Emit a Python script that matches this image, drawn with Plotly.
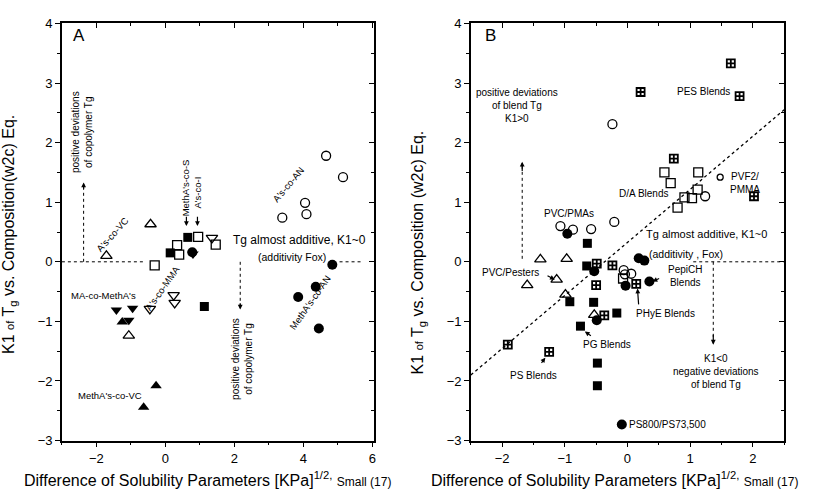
import plotly.graph_objects as go

# ---------------- Panel A data ----------------
a_open_sq_x = [-0.31, 0.34, 0.40, 0.95, 1.46]
a_open_sq_y = [-0.06, 0.28, 0.12, 0.42, 0.29]
a_fill_sq_x = [0.14, 0.65, 1.13]
a_fill_sq_y = [0.15, 0.41, -0.75]
a_open_tu_x = [-1.71, -0.43, -1.06]
a_open_tu_y = [0.10, 0.63, -1.24]
a_fill_tu_x = [-1.25, -0.27, -0.63]
a_fill_tu_y = [-1.01, -2.08, -2.44]
a_open_td_x = [1.35, 0.24, 0.27, -0.45]
a_open_td_y = [0.40, -0.56, -0.69, -0.79]
a_fill_td_x = [-1.42, -0.95, -1.06, 0.80]
a_fill_td_y = [-0.81, -0.78, -0.98, 0.13]
a_open_ci_x = [3.39, 4.09, 4.05, 4.66, 5.15]
a_open_ci_y = [0.74, 0.80, 0.99, 1.78, 1.42]
a_fill_ci_x = [4.84, 4.36, 3.85, 4.45, 0.78]
a_fill_ci_y = [-0.05, -0.42, -0.59, -1.12, 0.16]

# ---------------- Panel B data ----------------
b_open_ci_x = [-0.24, -1.07, -0.87, -0.58, -0.21, 1.24, -0.06, -0.04, 0.06]
b_open_ci_y = [2.31, 0.60, 0.54, 0.55, 0.67, 1.10, -0.14, -0.21, -0.20]
b_small_ci_x = [1.48]
b_small_ci_y = [1.42]
b_fill_ci_x = [-0.96, -0.53, -0.03, 0.18, 0.27, 0.35, -0.49, -0.09]
b_fill_ci_y = [0.47, -0.16, -0.40, 0.06, 0.02, -0.33, -0.98, -2.73]
b_open_sq_x = [0.59, 1.13, 0.69, 1.12, 0.91, 1.03, 0.80, -0.07]
b_open_sq_y = [1.50, 1.50, 1.32, 1.21, 1.08, 1.07, 0.91, -0.28]
b_fill_sq_x = [-0.64, -0.65, -0.92, -0.54, -0.17, -0.75, -0.48, -0.48]
b_fill_sq_y = [0.31, -0.07, -0.67, -0.68, -0.86, -1.08, -1.70, -2.08]
b_cross_sq_x = [1.65, 1.79, 0.21, 0.74, 2.02, -0.49, -0.50, -0.24, 0.14, -0.37, -1.25, -1.91]
b_cross_sq_y = [3.33, 2.78, 2.85, 1.73, 1.10, -0.03, -0.39, -0.06, -0.37, -0.90, -1.51, -1.39]
b_open_tu_x = [-1.39, -0.97, -1.60, -1.13, -0.99, -0.53]
b_open_tu_y = [0.04, 0.05, -0.39, -0.30, -0.55, -0.89]
b_diag_x = [-2.5, 2.5]
b_diag_y = [-1.9, 2.55]

FONT = "Liberation Sans, Arial, sans-serif"
fig = go.Figure()


def pts(x, y, sym, size, xa, ya, lw=1.3):
    fig.add_trace(go.Scatter(
        x=x, y=y, mode="markers", xaxis=xa, yaxis=ya, showlegend=False,
        marker=dict(symbol=sym, size=size, color="black",
                    line=dict(color="black", width=lw)),
        cliponaxis=False))


# panel A
pts(a_open_sq_x, a_open_sq_y, "square-open", 9, "x", "y")
pts(a_fill_sq_x, a_fill_sq_y, "square", 9, "x", "y", 0)
pts(a_open_tu_x, a_open_tu_y, "triangle-up-open", 10, "x", "y")
pts(a_fill_tu_x, a_fill_tu_y, "triangle-up", 10, "x", "y", 0)
pts(a_open_td_x, a_open_td_y, "triangle-down-open", 10, "x", "y")
pts(a_fill_td_x, a_fill_td_y, "triangle-down", 10, "x", "y", 0)
pts(a_open_ci_x, a_open_ci_y, "circle-open", 9, "x", "y")
pts(a_fill_ci_x, a_fill_ci_y, "circle", 10, "x", "y", 0)

# panel B
fig.add_trace(go.Scatter(x=b_diag_x, y=b_diag_y, mode="lines", xaxis="x2", yaxis="y2",
                         showlegend=False, line=dict(color="black", width=1.3, dash="dot")))
pts(b_open_ci_x, b_open_ci_y, "circle-open", 9, "x2", "y2")
pts(b_small_ci_x, b_small_ci_y, "circle-open", 6, "x2", "y2")
pts(b_fill_ci_x, b_fill_ci_y, "circle", 10, "x2", "y2", 0)
pts(b_open_sq_x, b_open_sq_y, "square-open", 9, "x2", "y2")
pts(b_fill_sq_x, b_fill_sq_y, "square", 9, "x2", "y2", 0)
pts(b_cross_sq_x, b_cross_sq_y, "square-cross-open", 8, "x2", "y2", 1.8)
pts(b_open_tu_x, b_open_tu_y, "triangle-up-open", 10, "x2", "y2")

# empty traces to draw mirrored (inside-tick) top/right axes
for xa, ya in (("x3", "y3"), ("x4", "y4")):
    fig.add_trace(go.Scatter(x=[], y=[], xaxis=xa, yaxis=ya, showlegend=False))

XA = [0.0752, 0.4545]
XB = [0.5721, 0.9527]
YD = [0.1042, 0.966]
RA = [-3, 6.05]
RB = [-2.5, 2.5]
RY = [-3, 4]

tickfont = dict(family=FONT, size=13, color="black")
base = dict(showline=True, linecolor="black", linewidth=1.5, showgrid=False,
            zeroline=False, ticklen=5, tickwidth=1.2, tickcolor="black", tickfont=tickfont)


def ax(rng, dom, tick0, dtick, mdtick, ticks, anchor, **kw):
    d = dict(base)
    d.update(range=rng, domain=dom, tick0=tick0, dtick=dtick, ticks=ticks, anchor=anchor,
             minor=dict(ticks=ticks, ticklen=3, tickcolor="black", dtick=mdtick, tick0=tick0))
    d.update(kw)
    return d


fig.update_layout(
    width=825, height=499, margin=dict(l=0, r=0, t=0, b=0),
    paper_bgcolor="white", plot_bgcolor="white",
    font=dict(family=FONT, color="black"),
    xaxis=ax(RA, XA, -2, 2, 1, "outside", "y"),
    yaxis=ax(RY, YD, 0, 1, 0.5, "outside", "x"),
    xaxis2=ax(RB, XB, 0, 1, 0.5, "outside", "y2"),
    yaxis2=ax(RY, YD, 0, 1, 0.5, "outside", "x2"),
    xaxis3=ax(RA, XA, -2, 2, 1, "inside", "y", overlaying="x", side="top", showticklabels=False),
    yaxis3=ax(RY, YD, 0, 1, 0.5, "inside", "x", overlaying="y", side="right", showticklabels=False),
    xaxis4=ax(RB, XB, 0, 1, 0.5, "inside", "y2", overlaying="x2", side="top", showticklabels=False),
    yaxis4=ax(RY, YD, 0, 1, 0.5, "inside", "x2", overlaying="y2", side="right", showticklabels=False),
)

shapes = []


def dline(xr, yr, x0, y0, x1, y1):
    shapes.append(dict(type="line", xref=xr, yref=yr, x0=x0, y0=y0, x1=x1, y1=y1,
                       line=dict(color="black", width=1, dash="dot")))


# panel A guide lines
dline("x", "y", -3, 0, -0.65, 0)
dline("x", "y", 5.05, 0, 5.7, 0)
dline("x", "y", -2.37, 0, -2.37, 1.31)
dline("x", "y", 2.17, 0, 2.17, -0.77)
# panel B guide lines
dline("x2", "y2", 1.05, 0, 2.5, 0)
dline("x2", "y2", -1.68, 0.05, -1.68, 1.65)
dline("x2", "y2", 1.37, 0, 1.37, -1.36)
fig.update_layout(shapes=shapes)

ann = []


def txt(xr, yr, x, y, t, size=10, angle=0, xanchor="center"):
    ann.append(dict(xref=xr, yref=yr, x=x, y=y, text=t, showarrow=False, textangle=angle,
                    xanchor=xanchor, yanchor="middle",
                    font=dict(family=FONT, size=size, color="black")))


def arrow(xr, yr, x, y, x0, y0, head=2, size=0.8):
    ann.append(dict(xref=xr, yref=yr, axref=xr, ayref=yr, x=x, y=y, ax=x0, ay=y0, text="",
                    showarrow=True, arrowhead=head, arrowsize=size, arrowwidth=1.2,
                    arrowcolor="black"))


# panel A labels
txt("x", "y", -2.75, 3.8, "A", 17, xanchor="left")
txt("x", "y", -2.4, 2.17, "positive deviations<br>of copolymer Tg", 10, -90)
arrow("x", "y", -2.37, 1.33, -2.37, 1.2)
txt("x", "y", 2.22, -1.63, "positive deviations<br>of copolymer Tg", 10, -90)
arrow("x", "y", 2.17, -0.8, 2.17, -0.67)
txt("x", "y", -1.54, 0.46, "A's-co-VC", 9.5, -48)
txt("x", "y", 0.61, 1.24, "MethA's-co-S", 9.5, -90)
arrow("x", "y", 0.61, 0.6, 0.61, 0.78)
txt("x", "y", 0.93, 1.17, "A's-co-I", 9.5, -90)
arrow("x", "y", 0.93, 0.6, 0.93, 0.78)
txt("x", "y", -0.1, -0.44, "A's-co-MMA", 9.5, -55)
txt("x", "y", -1.78, -0.56, "MA-co-MethA's", 9.5)
txt("x", "y", -1.61, -2.24, "MethA's-co-VC", 9.5)
txt("x", "y", 3.56, 1.30, "A's-co-AN", 9.5, -50)
txt("x", "y", 4.19, -0.68, "MethA's-co-AN", 9.5, -55)
txt("x", "y", 3.90, 0.36, "Tg almost additive, K1~0", 12)
txt("x", "y", 3.66, 0.08, "(additivity Fox)", 10.5)

# panel B labels
txt("x2", "y2", -2.3, 3.8, "B", 17, xanchor="left")
txt("x2", "y2", -1.76, 2.63, "positive deviations<br>of blend Tg<br>K1>0", 10)
arrow("x2", "y2", -1.68, 1.68, -1.68, 1.5)
txt("x2", "y2", 1.42, -1.84, "K1<0<br>negative deviations<br>of blend Tg", 10)
arrow("x2", "y2", 1.37, -1.39, 1.37, -1.2)
txt("x2", "y2", 1.21, 2.85, "PES Blends", 10)
txt("x2", "y2", 0.25, 1.15, "D/A Blends", 10)
txt("x2", "y2", 1.61, 1.32, "PVF2/<br>PMMA", 10, xanchor="left")
txt("x2", "y2", -0.94, 0.81, "PVC/PMAs", 10)
txt("x2", "y2", 1.26, 0.47, "Tg almost additive, K1~0", 11)
txt("x2", "y2", 0.94, 0.13, "(additivity , Fox)", 10.5)
txt("x2", "y2", -1.87, -0.18, "PVC/Pesters", 10)
arrow("x2", "y2", -1.16, -0.30, -1.30, -0.22)
txt("x2", "y2", 0.62, -0.23, "PepiCH<br>Blends", 10, xanchor="left")
arrow("x2", "y2", 0.40, -0.33, 0.53, -0.27)
txt("x2", "y2", 0.60, -0.86, "PHyE Blends", 10)
arrow("x2", "y2", 0.16, -0.45, 0.18, -0.74)
txt("x2", "y2", -0.33, -1.39, "PG Blends", 10)
arrow("x2", "y2", -0.68, -1.17, -0.56, -1.26)
txt("x2", "y2", -1.50, -1.91, "PS Blends", 10)
arrow("x2", "y2", -1.31, -1.61, -1.39, -1.72)
txt("x2", "y2", 0.0, -2.73, "PS800/PS73,500", 10, xanchor="left")

# axis titles
ytitle = "K1 <span style='font-size:11px'>of</span> T<sub>g</sub> vs. Composition{}(w2c) Eq."
for cx, cy, gap in ((10, 234, ""), (419, 253, " ")):
    ann.append(dict(xref="paper", yref="paper", x=cx / 825, y=1 - cy / 499,
                    text=ytitle.format(gap), showarrow=False, textangle=-90,
                    xanchor="center", yanchor="middle",
                    font=dict(family=FONT, size=16, color="black")))
xtitle = ("Difference of Solubility Parameters [KPa]<sup>1/2,</sup> "
          "<span style='font-size:12px'>Small (17)</span>")
for cx in (208, 616):
    ann.append(dict(xref="paper", yref="paper", x=cx / 825, y=1 - 487 / 499, text=xtitle,
                    showarrow=False, xanchor="center", yanchor="middle",
                    font=dict(family=FONT, size=16, color="black")))

fig.update_layout(annotations=ann)
fig.write_html("out.html")
